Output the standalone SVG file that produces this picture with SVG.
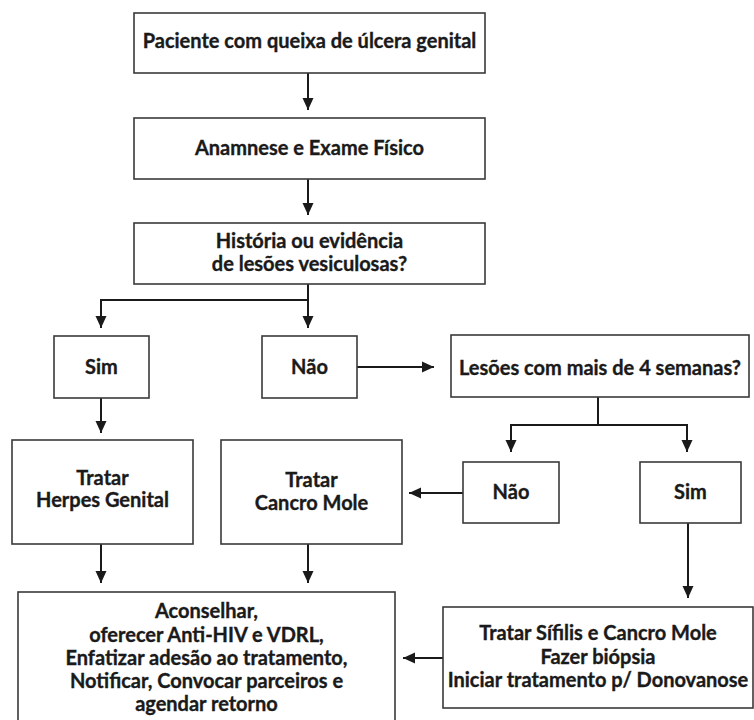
<svg xmlns="http://www.w3.org/2000/svg" width="754" height="720" viewBox="0 0 754 720">
<defs>
<style>
.box{fill:#fff;stroke:#3a3a3a;stroke-width:1.6}
.t{font-family:Lato,"Liberation Sans",sans-serif;font-weight:700;font-size:20px;fill:#1a1a1a;stroke:#1a1a1a;stroke-width:0.35;text-anchor:middle}
.c{fill:none;stroke:#1a1a1a;stroke-width:2}
</style>
<marker id="ah" markerUnits="userSpaceOnUse" markerWidth="12" markerHeight="14" viewBox="0 0 12 14" refX="12" refY="7" orient="auto">
<path d="M0,1.5 L12,7 L0,12.5 Z" fill="#1a1a1a"/>
</marker>
</defs>
<rect width="754" height="720" fill="#fff"/>
<g id="connectors">
<path class="c" d="M308,73 V110" marker-end="url(#ah)"/>
<path class="c" d="M308,179 V215" marker-end="url(#ah)"/>
<path class="c" d="M308,284 V328" marker-end="url(#ah)"/>
<path class="c" d="M308,300 H101 V328" marker-end="url(#ah)"/>
<path class="c" d="M357,367 H434" marker-end="url(#ah)"/>
<path class="c" d="M101,398 V433" marker-end="url(#ah)"/>
<path class="c" d="M598,397 V425"/>
<path class="c" d="M598,425 H687 V452" marker-end="url(#ah)"/>
<path class="c" d="M598,425 H511 V452" marker-end="url(#ah)"/>
<path class="c" d="M463,493 H409" marker-end="url(#ah)"/>
<path class="c" d="M688,523 V598" marker-end="url(#ah)"/>
<path class="c" d="M101,544 V583" marker-end="url(#ah)"/>
<path class="c" d="M308,544 V583" marker-end="url(#ah)"/>
<path class="c" d="M443,658 H403" marker-end="url(#ah)"/>
</g>
<g id="n1"><rect class="box" x="134" y="13" width="351" height="60"/><text class="t" x="309.5" y="48">Paciente com queixa de úlcera genital</text></g>
<g id="n2"><rect class="box" x="134" y="118" width="351" height="61"/><text class="t" x="309.5" y="155">Anamnese e Exame Físico</text></g>
<g id="n3"><rect class="box" x="134" y="223" width="351" height="61"/><text class="t" x="309.5" y="248">História ou evidência</text><text class="t" x="309.5" y="271">de lesões vesiculosas?</text></g>
<g id="n4"><rect class="box" x="54" y="336" width="95" height="62"/><text class="t" x="101.5" y="374">Sim</text></g>
<g id="n5"><rect class="box" x="262" y="336" width="95" height="62"/><text class="t" x="309.5" y="374">Não</text></g>
<g id="n6"><rect class="box" x="451" y="335" width="298" height="62"/><text class="t" x="600" y="375">Lesões com mais de 4 semanas?</text></g>
<g id="n7"><rect class="box" x="12" y="440" width="181" height="104"/><text class="t" x="102.5" y="485">Tratar</text><text class="t" x="102.5" y="507">Herpes Genital</text></g>
<g id="n8"><rect class="box" x="221" y="440" width="181" height="104"/><text class="t" x="311.5" y="487">Tratar</text><text class="t" x="311.5" y="510">Cancro Mole</text></g>
<g id="n9"><rect class="box" x="463" y="462" width="96" height="61"/><text class="t" x="511" y="499">Não</text></g>
<g id="n10"><rect class="box" x="640" y="462" width="101" height="61"/><text class="t" x="690.5" y="499">Sim</text></g>
<g id="n11"><rect class="box" x="18" y="592" width="377" height="140"/><text class="t" x="206.5" y="618">Aconselhar,</text><text class="t" x="206.5" y="642">oferecer Anti-HIV e VDRL,</text><text class="t" x="206.5" y="665">Enfatizar adesão ao tratamento,</text><text class="t" x="206.5" y="688">Notificar, Convocar parceiros e</text><text class="t" x="206.5" y="711">agendar retorno</text></g>
<g id="n12"><rect class="box" x="443" y="607" width="310" height="101"/><text class="t" x="598" y="640">Tratar Sífilis e Cancro Mole</text><text class="t" x="598" y="664">Fazer biópsia</text><text class="t" x="598" y="687">Iniciar tratamento p/ Donovanose</text></g>
</svg>
